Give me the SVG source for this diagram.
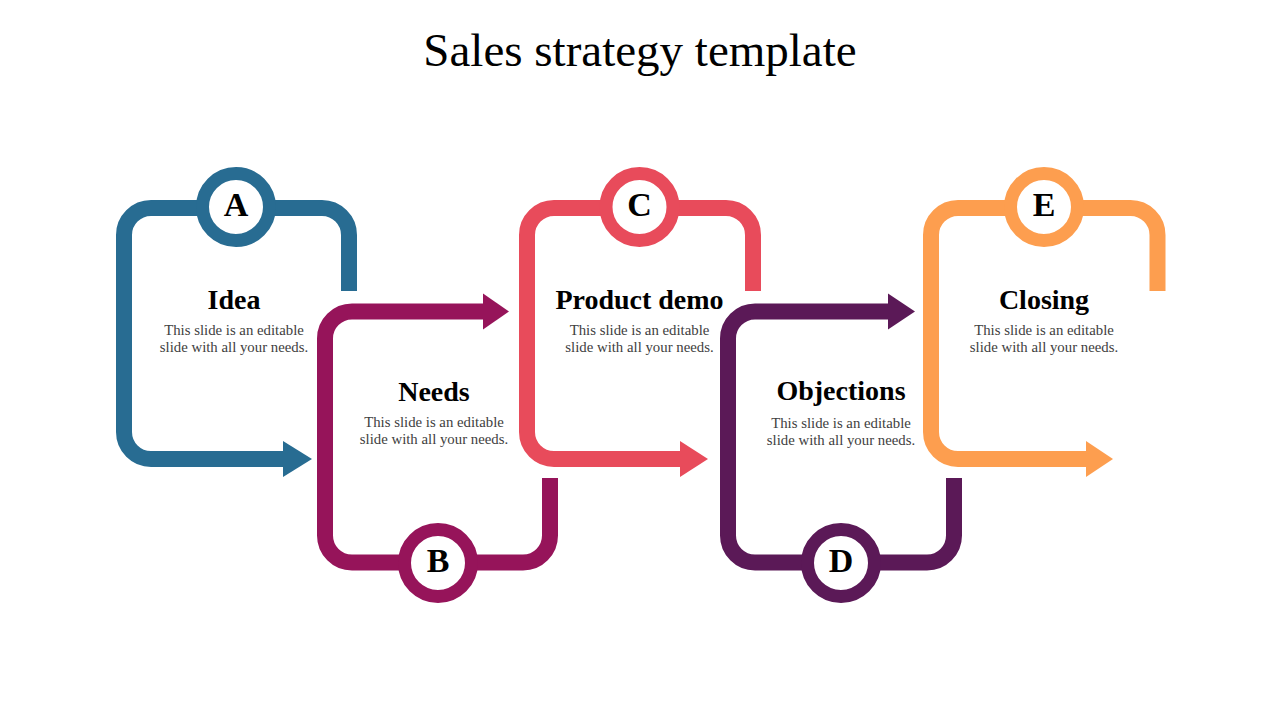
<svg xmlns="http://www.w3.org/2000/svg" width="1280" height="720" viewBox="0 0 1280 720">
<style>
.ln{fill:none;stroke-width:16;stroke-linecap:butt;stroke-linejoin:round}
.ring{fill:#fff;stroke-width:13}
.title{font-family:"Liberation Serif",serif;font-size:47px;fill:#000;text-anchor:middle}
.hd{font-family:"Liberation Serif",serif;font-weight:bold;font-size:28px;fill:#000;text-anchor:middle}
.lt{font-family:"Liberation Serif",serif;font-weight:bold;font-size:34px;fill:#000;text-anchor:middle}
.bd{font-family:"Liberation Serif",serif;font-size:14.8px;fill:#404040;text-anchor:middle}
.blue{stroke:#286c92}.blueF{fill:#286c92}
.mag{stroke:#96145a}.magF{fill:#96145a}
.red{stroke:#e84b5b}.redF{fill:#e84b5b}
.pur{stroke:#5b1957}.purF{fill:#5b1957}
.org{stroke:#fd9e4f}.orgF{fill:#fd9e4f}
</style>
<rect width="1280" height="720" fill="#fff"/>
<text class="title" x="640" y="66">Sales strategy template</text>
<g id="connectors">
<path class="ln blue" d="M349,291 V235 A27,27 0 0 0 322,208 H151 A27,27 0 0 0 124,235 V432 A27,27 0 0 0 151,459 H284"/>
<polygon class="blueF" points="283,441 312,459 283,477"/>
<path class="ln mag" d="M484,311.5 H352 A27,27 0 0 0 325,338.5 V535.5 A27,27 0 0 0 352,562.5 H523 A27,27 0 0 0 550,535.5 V478"/>
<polygon class="magF" points="483,293.5 509,311.5 483,329.5"/>
<path class="ln red" d="M753,291 V235 A27,27 0 0 0 726,208 H554 A27,27 0 0 0 527,235 V432 A27,27 0 0 0 554,459 H681"/>
<polygon class="redF" points="680,441 708,459 680,477"/>
<path class="ln pur" d="M889,311.5 H755 A27,27 0 0 0 728,338.5 V535.5 A27,27 0 0 0 755,562.5 H927 A27,27 0 0 0 954,535.5 V478"/>
<polygon class="purF" points="888,293.5 915,311.5 888,329.5"/>
<path class="ln org" d="M1157.5,291 V235 A27,27 0 0 0 1130.5,208 H958 A27,27 0 0 0 931,235 V432 A27,27 0 0 0 958,459 H1087"/>
<polygon class="orgF" points="1086,441 1113,459 1086,477"/>
</g>
<g id="node-a">
<circle class="ring blue" cx="236" cy="207" r="33.5"/>
<text class="lt" x="236" y="216">A</text>
<text class="hd" x="234" y="309">Idea</text>
<text class="bd" x="234" y="335">This slide is an editable</text>
<text class="bd" x="234" y="352">slide with all your needs.</text>
</g>
<g id="node-b">
<circle class="ring mag" cx="438" cy="563" r="33.5"/>
<text class="lt" x="438" y="572">B</text>
<text class="hd" x="434" y="401">Needs</text>
<text class="bd" x="434" y="427">This slide is an editable</text>
<text class="bd" x="434" y="444">slide with all your needs.</text>
</g>
<g id="node-c">
<circle class="ring red" cx="639.5" cy="207" r="33.5"/>
<text class="lt" x="639.5" y="216">C</text>
<text class="hd" x="639.5" y="309">Product demo</text>
<text class="bd" x="639.5" y="335">This slide is an editable</text>
<text class="bd" x="639.5" y="352">slide with all your needs.</text>
</g>
<g id="node-d">
<circle class="ring pur" cx="841" cy="563" r="33.5"/>
<text class="lt" x="841" y="572">D</text>
<text class="hd" x="841" y="400">Objections</text>
<text class="bd" x="841" y="428">This slide is an editable</text>
<text class="bd" x="841" y="445">slide with all your needs.</text>
</g>
<g id="node-e">
<circle class="ring org" cx="1044" cy="207" r="33.5"/>
<text class="lt" x="1044" y="216">E</text>
<text class="hd" x="1044" y="309">Closing</text>
<text class="bd" x="1044" y="335">This slide is an editable</text>
<text class="bd" x="1044" y="352">slide with all your needs.</text>
</g>
</svg>
